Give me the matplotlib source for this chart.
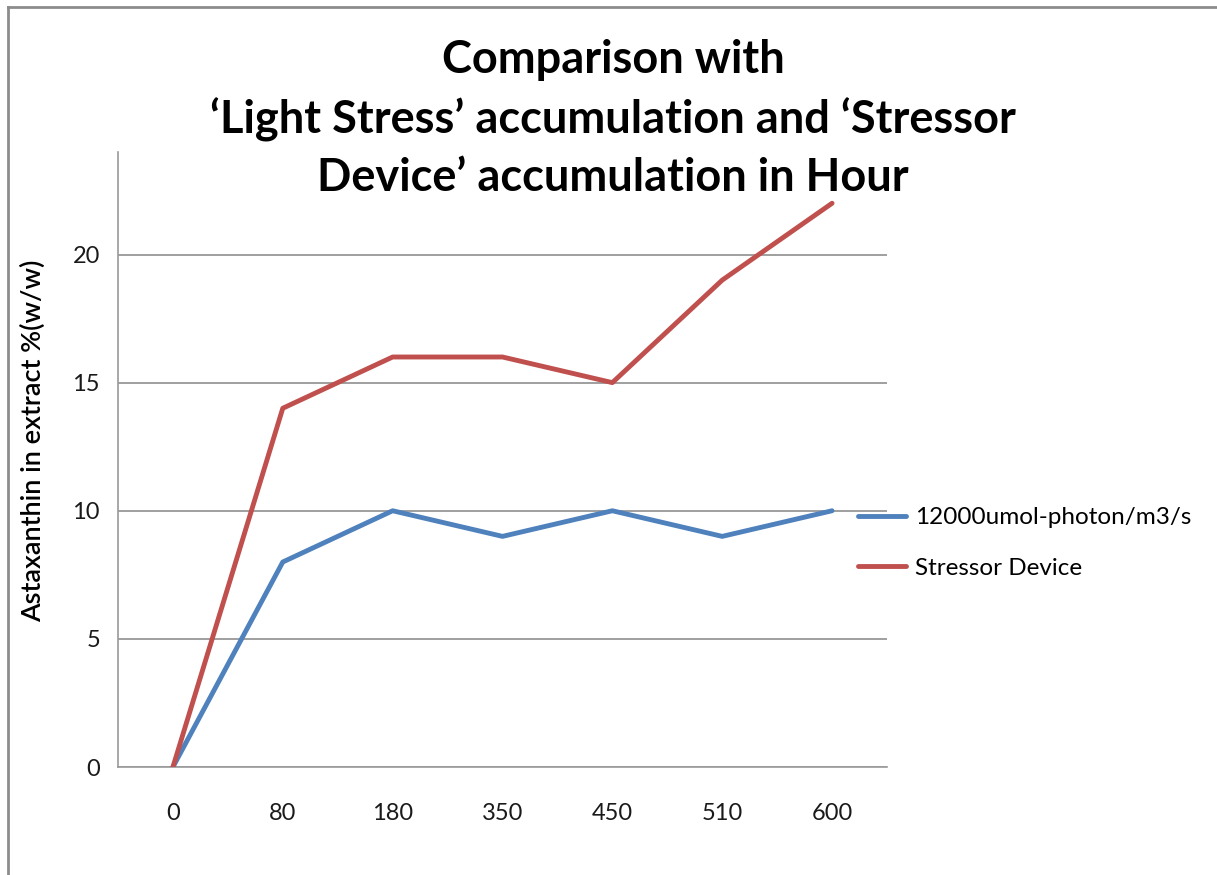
import matplotlib.pyplot as plt
from matplotlib.lines import Line2D

# data
hours = ["0", "80", "180", "350", "450", "510", "600"]
light_stress = [0, 8, 10, 9, 10, 9, 10]
stressor_device = [0, 14, 16, 16, 15, 19, 22]

plt.rcParams['font.family'] = ['Lato', 'DejaVu Sans']

W, H = 1217, 875
fig = plt.figure(figsize=(W / 100, H / 100), dpi=100)
ax = fig.add_axes([118 / W, 1 - 767 / H, (887 - 118) / W, (767 - 152) / H])

x = range(len(hours))
ax.plot(x, light_stress, color="#4F81BD", lw=3.5, solid_capstyle="round",
        solid_joinstyle="round", label="12000umol-photon/m3/s", zorder=3)
ax.plot(x, stressor_device, color="#C0504D", lw=3.5, solid_capstyle="round",
        solid_joinstyle="round", label="Stressor Device", zorder=3)

ax.set_xlim(-0.5, len(hours) - 0.5)
ax.set_ylim(0, 24)
ax.set_yticks([0, 5, 10, 15, 20])
ax.set_xticks(list(x))
ax.set_xticklabels(hours)
ax.yaxis.grid(True, color="#8f8f8f", lw=1.2)
ax.set_axisbelow(True)
for s in ["top", "right"]:
    ax.spines[s].set_visible(False)
for s in ["left", "bottom"]:
    ax.spines[s].set_color("#9a9a9a")
    ax.spines[s].set_linewidth(1.2)
ax.tick_params(axis="both", length=0, labelsize=17, colors="#1a1a1a")
ax.tick_params(axis="x", pad=26)
ax.tick_params(axis="y", pad=13)

# axis title (Excel places it a bit above the plot centre)
fig.text(33 / W, 1 - 441 / H, "Astaxanthin in extract %(w/w)", rotation=90,
         ha="center", va="center", fontsize=19.5, fontweight="semibold")

fig.text(613 / W, 1 - 119 / H,
         "Comparison with\n‘Light Stress’ accumulation and ‘Stressor\nDevice’ accumulation in Hour",
         ha="center", va="center", fontsize=32.5, fontweight="bold",
         linespacing=1.45)

fig.legend(loc="center left", bbox_to_anchor=(836 / W, 1 - 543 / H),
           frameon=False, fontsize=17.5, handlelength=2.0, handletextpad=0.35,
           labelspacing=1.2)

# outer chart border
fig.add_artist(Line2D([8 / W, 8 / W], [0, 1 - 7 / H], color="#8c8c8c", lw=2))
fig.add_artist(Line2D([8 / W, 1], [1 - 7 / H, 1 - 7 / H], color="#8c8c8c", lw=2))

fig.savefig("out.png", dpi=100)
